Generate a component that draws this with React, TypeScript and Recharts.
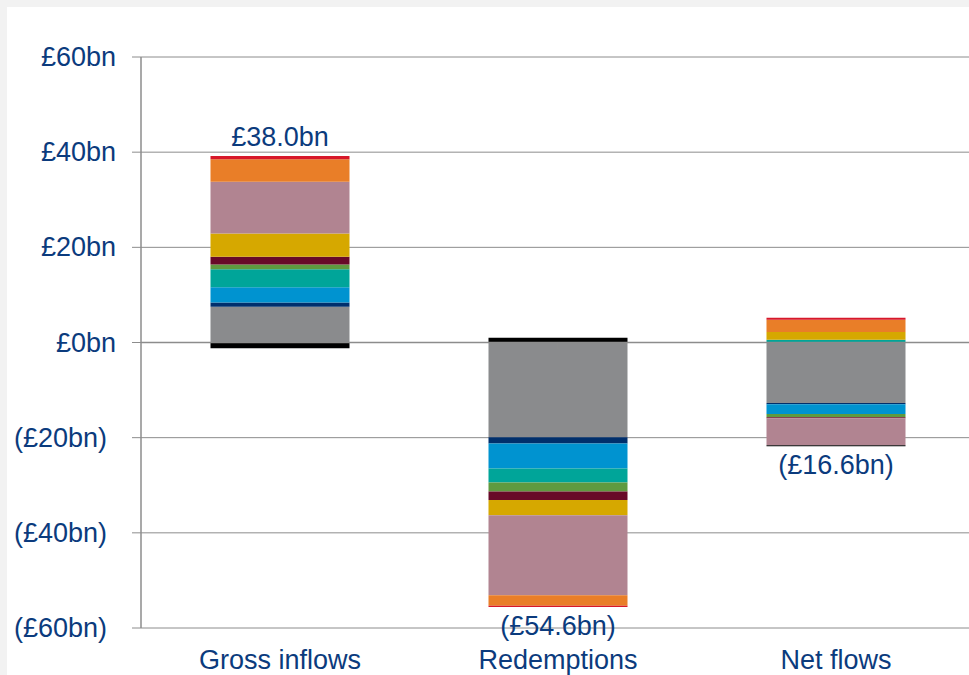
import {
  ComposedChart,
  Bar,
  Line,
  XAxis,
  YAxis,
  CartesianGrid,
  ReferenceLine,
  LabelList,
} from "recharts";

// Categories and stacked components (£bn)
const CATEGORIES = ["Gross inflows", "Redemptions", "Net flows"];

const greyValues = [7.5, -19.9, -12.7];
const navyValues = [0.9, -1.3, -0.3];
const blueValues = [3.2, -5.3, -2.0];
const tealValues = [3.8, -2.9, 0.6];
const greenValues = [1.0, -1.9, -0.7];
const maroonValues = [1.6, -1.8, -0.2];
const yellowValues = [4.9, -3.2, 1.6];
const pinkValues = [10.9, -16.8, -5.7];
const orangeValues = [4.7, -2.2, 2.6];
const redValues = [0.7, -0.3, 0.4];
const blackValues = [-1.2, 1.0, -0.2];

const TOTALS = [38.0, -54.6, -16.6];
const TOTAL_LABELS = ["£38.0bn", "(£54.6bn)", "(£16.6bn)"];

const Y_TICKS = [-60, -40, -20, 0, 20, 40, 60];

const SERIES = [
  { key: "grey", values: greyValues, color: "#8a8b8d" },
  { key: "navy", values: navyValues, color: "#002f6c" },
  { key: "blue", values: blueValues, color: "#0093d0" },
  { key: "teal", values: tealValues, color: "#00a599" },
  { key: "green", values: greenValues, color: "#5f9a3f" },
  { key: "maroon", values: maroonValues, color: "#680a28" },
  { key: "yellow", values: yellowValues, color: "#d6a800" },
  { key: "pink", values: pinkValues, color: "#b18491" },
  { key: "orange", values: orangeValues, color: "#e97e28" },
  { key: "red", values: redValues, color: "#d7182a" },
  { key: "black", values: blackValues, color: "#000000" },
];

const TEXT = "#0b3b7d";
const GRID = "#8c8c8c";
const FONT = "'Liberation Sans', Arial, sans-serif";
const FONT_SIZE = 27;

const data = CATEGORIES.map((name, i) => {
  const row: Record<string, number | string> = { name };
  let up = 0;
  let down = 0;
  SERIES.forEach((s) => {
    row[s.key] = s.values[i];
    if (s.values[i] > 0) up += s.values[i];
    else down += s.values[i];
  });
  // total label sits at the end of the stack in the direction of the total
  row.labelY = TOTALS[i] >= 0 ? up : down;
  row.total = TOTALS[i];
  row.label = TOTAL_LABELS[i];
  return row;
});

const fmtTick = (v: number) => (v < 0 ? `(£${Math.abs(v)}bn)` : `£${v}bn`);

const YTick = (props: any) => {
  const { x, y, payload } = props;
  const v = payload.value as number;
  return (
    <text
      x={x + (v < 0 ? -9 : 0)}
      y={y}
      textAnchor="end"
      dominantBaseline="central"
      fill={TEXT}
      fontSize={FONT_SIZE}
      fontFamily={FONT}
    >
      {fmtTick(v)}
    </text>
  );
};

const XTick = (props: any) => {
  const { x, y, payload } = props;
  return (
    <text
      x={x}
      y={y + 32}
      textAnchor="middle"
      dominantBaseline="central"
      fill={TEXT}
      fontSize={FONT_SIZE}
      fontFamily={FONT}
    >
      {payload.value}
    </text>
  );
};

const TotalLabel = (props: any) => {
  const { x, y, index } = props;
  const row = data[index];
  const above = (row.total as number) >= 0;
  return (
    <text
      x={x}
      y={y + (above ? -19 : 19)}
      textAnchor="middle"
      dominantBaseline="central"
      fill={TEXT}
      fontSize={FONT_SIZE}
      fontFamily={FONT}
    >
      {row.label as string}
    </text>
  );
};

export default function App() {
  return (
    <div
      style={{
        position: "absolute",
        left: 0,
        top: 0,
        width: 969,
        height: 675,
        background: "#f2f2f2",
        overflow: "hidden",
      }}
    >
      <div
        style={{
          position: "absolute",
          left: 7,
          top: 7,
          width: 962,
          height: 700,
          background: "#ffffff",
        }}
      >
        <ComposedChart
          width={980}
          height={700}
          data={data}
          stackOffset="sign"
          barCategoryGap="25%"
          margin={{ top: 50, right: 12, bottom: 0, left: 0 }}
        >
          <CartesianGrid
            xAxisId="cat"
            vertical={false}
            stroke={GRID}
            strokeWidth={1}
          />
          <XAxis
            xAxisId="cat"
            dataKey="name"
            axisLine={false}
            tickLine={false}
            tickSize={0}
            tickMargin={0}
            height={79}
            tick={<XTick />}
            interval={0}
          />
          <XAxis xAxisId="num" type="number" domain={[0, 3]} hide />
          <YAxis
            domain={[-60, 60]}
            ticks={Y_TICKS}
            width={134}
            interval={0}
            axisLine={{ stroke: GRID, strokeWidth: 1.5 }}
            tickLine={{ stroke: GRID, strokeWidth: 1 }}
            tickSize={9}
            tickMargin={16}
            tick={<YTick />}
          />
          {SERIES.map((s) => (
            <Bar
              key={s.key}
              xAxisId="cat"
              dataKey={s.key}
              stackId="flows"
              fill={s.color}
              isAnimationActive={false}
            />
          ))}
          <ReferenceLine xAxisId="cat" y={0} stroke={GRID} strokeWidth={1.5} />
          {[1, 2].map((b) => (
            <ReferenceLine
              key={b}
              xAxisId="num"
              segment={[
                { x: b, y: 0 },
                { x: b, y: -1.5 },
              ]}
              stroke={GRID}
              strokeWidth={1}
            />
          ))}
          <Line
            xAxisId="cat"
            dataKey="labelY"
            stroke="none"
            dot={false}
            activeDot={false}
            isAnimationActive={false}
          >
            <LabelList dataKey="labelY" content={<TotalLabel />} />
          </Line>
        </ComposedChart>
      </div>
    </div>
  );
}
